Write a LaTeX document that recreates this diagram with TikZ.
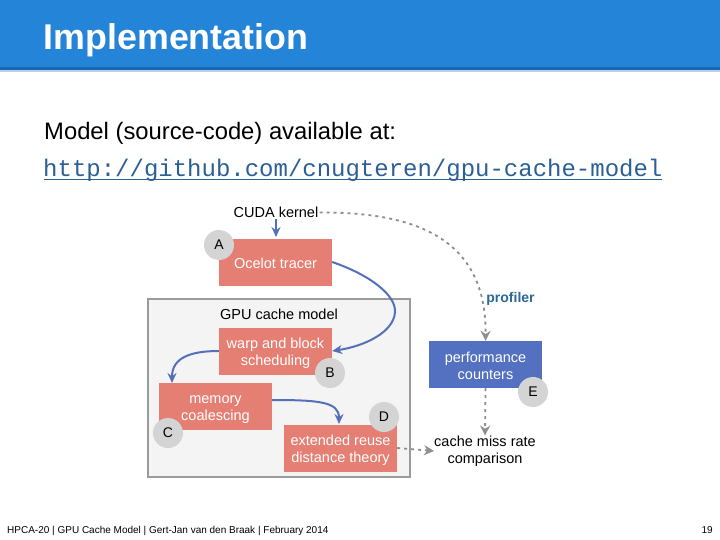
\documentclass[tikz,border=0pt]{standalone}
\usepackage{fontspec}
\setmainfont{Liberation Sans}
\setmonofont{Liberation Mono}
\usetikzlibrary{arrows.meta}
\definecolor{hdr}{HTML}{2484D8}
\definecolor{hdrdark}{HTML}{1B67AE}
\definecolor{hdrlight}{HTML}{B5D3EE}
\definecolor{salmon}{HTML}{E67F73}
\definecolor{perfblue}{HTML}{5470C0}
\definecolor{arrowblue}{HTML}{5470BC}
\definecolor{boxgray}{HTML}{9A9A9A}
\definecolor{boxfill}{HTML}{F4F4F4}
\definecolor{dashgray}{HTML}{8E8E8E}
\definecolor{circgray}{HTML}{D4D4D4}
\definecolor{linkblue}{HTML}{2B5F97}
\definecolor{proftext}{HTML}{2A6A94}
\tikzset{
  bodytext/.style={font=\fontsize{14.5}{17}\selectfont, align=center, inner sep=0pt},
  redbox/.style={fill=salmon, minimum width=113pt, minimum height=47pt, inner sep=0pt},
  bluebox/.style={fill=perfblue, minimum width=113pt, minimum height=47pt, inner sep=0pt},
  boxlabel/.style={bodytext, text=white, yshift=-#1},
  badge/.style={circle, fill=circgray, text=black, minimum size=30pt, inner sep=0pt, font=\fontsize{14}{16}\selectfont},
  plainlabel/.style={bodytext, text=black},
  flow/.style={arrowblue, line width=2pt, -{Stealth[length=10pt,width=9pt]}},
  dashflow/.style={dashgray, line width=1.8pt, dash pattern=on 3pt off 4pt, -{Stealth[length=10pt,width=10pt]}},
  slidetext/.style={inner sep=0pt, anchor=base west}
}
\begin{document}
\begin{tikzpicture}[x=1pt,y=-1pt]
\useasboundingbox (0,0) rectangle (720,540);
\fill[white] (0,0) rectangle (720,540);
\fill[hdr] (0,0) rectangle (720,67);
\fill[hdrdark] (0,67) rectangle (720,70);
\fill[hdrlight] (0,70) rectangle (720,72);
\node[slidetext, text=white, font=\fontsize{35.8}{40}\selectfont\bfseries] (title) at (43.5,50) {Implementation};
\node[slidetext, text=black, font=\fontsize{23.8}{28}\selectfont] (model) at (44,140) {Model (source-code) available at:};
\node[slidetext, text=linkblue, font=\fontsize{24}{28}\selectfont\ttfamily] (link) at (43,177) {http://github.com/cnugteren/gpu-cache-model};
\draw[linkblue, line width=1.2pt] (44,179.5) -- (662,179.5);

\node[draw=boxgray, line width=2.5pt, fill=boxfill, minimum width=262pt, minimum height=178pt, inner sep=0pt] (gpu) at (279,388) {};
\node[plainlabel] (gpulabel) at (279,314.5) {GPU cache model};
\node[plainlabel] (cuda) at (276,212.5) {CUDA kernel};
\node[redbox, label={[boxlabel=1pt]center:{Ocelot tracer}}] (ocelot) at (275.5,262) {};
\node[redbox, label={[boxlabel=2pt]center:{warp and block\\scheduling}}] (warp) at (275.5,351) {};
\node[redbox, label={[boxlabel=3.5pt]center:{memory\\coalescing}}] (memory) at (215.5,406.5) {};
\node[redbox, label={[boxlabel=2pt]center:{extended reuse\\distance theory}}] (reuse) at (340.5,448) {};
\node[bluebox, label={[boxlabel=1pt]center:{performance\\counters}}] (perf) at (485.5,364.5) {};
\node[plainlabel] (cache) at (485,451) {cache miss rate\\comparison};
\node[bodytext, text=proftext, font=\fontsize{14}{16}\selectfont\bfseries] (prof) at (510.5,299) {profiler};

\node[badge] (A) at (219,245) {A};
\node[badge] (B) at (330,373) {B};
\node[badge] (C) at (168,433) {C};
\node[badge] (D) at (384,417) {D};
\node[badge] (E) at (533,392) {E};

\draw[flow] (cuda.south) ++(0,1) -- (276,237);
\draw[flow] (ocelot.east) .. controls (370,275) and (396,295) .. (395,312) .. controls (394,332) and (365,346) .. (warp.east);
\draw[flow] (warp.west) .. controls (190,351) and (172,358) .. (172,383);
\draw[flow] ([yshift=6.5pt]memory.east) .. controls (320,400) and (339,402) .. (339,424);
\draw[dashflow] (cuda.east) ++(1,0) .. controls (410,212) and (487,235) .. (perf.north);
\draw[dashflow] (perf.south) -- (cache.north);
\draw[dashflow] (reuse.east) -- (cache.west);

\node[slidetext, text=black, font=\fontsize{10}{12}\selectfont] (foot) at (7,533.5) {HPCA-20 | GPU Cache Model | Gert-Jan van den Braak | February 2014};
\node[slidetext, anchor=base east, text=black, font=\fontsize{10}{12}\selectfont] (page) at (713,533.5) {19};
\end{tikzpicture}
\end{document}
